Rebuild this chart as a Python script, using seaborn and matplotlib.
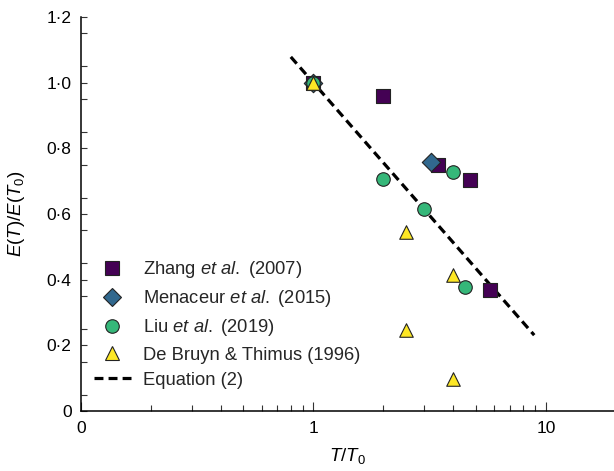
import numpy as np
import pandas as pd
import matplotlib
matplotlib.use("Agg")
import matplotlib.pyplot as plt
from matplotlib.ticker import FixedLocator, FixedFormatter, NullFormatter
from matplotlib.lines import Line2D
import seaborn as sns

# ---- data ----
zhang_x = [1.0, 2.0, 3.45, 4.7, 5.75]
zhang_y = [1.0, 0.96, 0.75, 0.705, 0.37]
menaceur_x = [1.0, 3.2]
menaceur_y = [1.0, 0.757]
liu_x = [1.0, 2.0, 3.0, 4.0, 4.5]
liu_y = [1.0, 0.707, 0.615, 0.727, 0.379]
debruyn_x = [1.0, 2.5, 2.5, 4.0, 4.0]
debruyn_y = [1.0, 0.545, 0.247, 0.414, 0.097]
eq_range = [0.8, 8.9]          # extent of Equation (2)
eq_slope = 0.81                # y = 1 - slope*log10(x)

series_names = [r"Zhang $\mathit{et\ al.}$ (2007)",
                r"Menaceur $\mathit{et\ al.}$ (2015)",
                r"Liu $\mathit{et\ al.}$ (2019)",
                "De Bruyn & Thimus (1996)"]
series_colors = ["#440154", "#31688e", "#35b779", "#fde725"]
series_markers = ["s", "D", "o", "^"]
series_sizes = [88, 88, 95, 95]

xtick_pos = [0.1, 1, 10]
xtick_labels = ["0", "1", "10"]
ytick_pos = [0, 0.2, 0.4, 0.6, 0.8, 1.0, 1.2]
ytick_labels = ["0", "0·2", "0·4", "0·6", "0·8", "1·0", "1·2"]

# ---- style ----
sns.set_theme(style="ticks")
plt.rcParams["font.family"] = ["Liberation Sans", "DejaVu Sans"]
plt.rcParams["mathtext.fontset"] = "custom"
plt.rcParams["mathtext.rm"] = "Liberation Sans"
plt.rcParams["mathtext.it"] = "Liberation Sans:italic"
plt.rcParams["mathtext.bf"] = "Liberation Sans:bold"

W, H = 614, 471
fig = plt.figure(figsize=(W / 100, H / 100), dpi=100)
ax = fig.add_axes([80.7 / W, 60 / H, (W - 80.7) / W, 394 / H])

xs = [zhang_x, menaceur_x, liu_x, debruyn_x]
ys = [zhang_y, menaceur_y, liu_y, debruyn_y]
frames = []
for name, x, y in zip(series_names, xs, ys):
    frames.append(pd.DataFrame({"x": x, "y": y, "src": name}))
df = pd.concat(frames, ignore_index=True)

handles = []
for name, col, mk, s in zip(series_names, series_colors, series_markers, series_sizes):
    sub = df[df["src"] == name]
    sns.scatterplot(data=sub, x="x", y="y", ax=ax, color=col, marker=mk, s=s,
                    edgecolor="#222222", linewidth=0.8, legend=False, zorder=3)
    handles.append(Line2D([], [], linestyle="none", marker=mk, markersize=np.sqrt(s),
                          markerfacecolor=col, markeredgecolor="#222222",
                          markeredgewidth=0.8, label=name))

eq_x = np.geomspace(eq_range[0], eq_range[1], 60)
eq_df = pd.DataFrame({"x": eq_x, "y": 1 - eq_slope * np.log10(eq_x)})
sns.lineplot(data=eq_df, x="x", y="y", ax=ax, color="black", linewidth=2.3,
             dashes=False, zorder=2)
ax.lines[-1].set_dashes((2.8, 1.6))
handles.append(Line2D([], [], color="black", linewidth=2.3, dashes=(2.8, 1.6),
                      label="Equation (2)"))

ax.set_xscale("log")
ax.set_xlim(0.1, 19.6)
ax.set_ylim(0, 1.2)

ax.xaxis.set_major_locator(FixedLocator(xtick_pos))
ax.xaxis.set_major_formatter(FixedFormatter(xtick_labels))
minor_x = [m * d for d in (0.1, 1, 10) for m in range(2, 10)]
ax.xaxis.set_minor_locator(FixedLocator(minor_x))
ax.xaxis.set_minor_formatter(NullFormatter())

ax.yaxis.set_major_locator(FixedLocator(ytick_pos))
ax.yaxis.set_major_formatter(FixedFormatter(ytick_labels))
ax.yaxis.set_minor_locator(FixedLocator(np.arange(0.05, 1.2, 0.1)))

sns.despine(ax=ax, top=True, right=True)
for sp in ("left", "bottom"):
    ax.spines[sp].set_linewidth(1.1)
    ax.spines[sp].set_color("black")

ax.tick_params(axis="x", which="major", direction="in", length=6.5, width=0.8,
               color="#333333", labelsize=12.5, pad=7.3, labelcolor="black")
ax.tick_params(axis="x", which="minor", direction="in", length=4.3, width=0.8,
               color="#333333")
ax.tick_params(axis="y", which="both", direction="in", length=4.3, width=0.8,
               color="#333333", labelsize=12.5, pad=6.5, labelcolor="black")

ax.set_xlabel(r"$\mathit{T}/\mathit{T}_0$", fontsize=13.5, color="black")
ax.set_ylabel(r"$\mathit{E}(\mathit{T})/\mathit{E}(\mathit{T}_0)$", fontsize=13.5,
              color="black")
ax.xaxis.set_label_coords(0.5, -0.088)
ax.yaxis.set_label_coords(-0.1, 0.5)

ax.legend(handles=handles, loc="upper left", bbox_to_anchor=(0.025, 0.385),
          frameon=False, fontsize=13.2, borderaxespad=0, borderpad=0,
          handlelength=2.0, handletextpad=0.69, labelspacing=0.44)

fig.savefig("out.png", dpi=100)
